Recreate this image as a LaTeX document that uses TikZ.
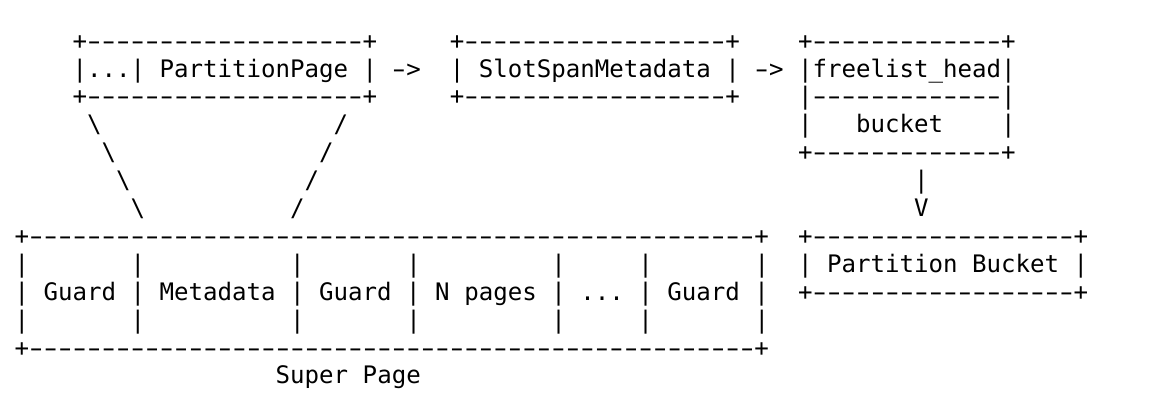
\documentclass[tikz,border=0pt]{standalone}
\usepackage{graphicx}
\usepackage{fontspec}
\setmonofont{DejaVu Sans Mono}
% one hyphen, drawn a bit longer, in one character cell
\newcommand\dsh{\makebox[0.602em]{\scalebox{1.6}[1]{-}}}
\newcommand\dashes[1]{\foreach \k in {1,...,#1}{\dsh}}

\begin{document}
\begin{tikzpicture}[x=14.51pt, y=-27.9pt,
  ascii/.style={anchor=base west, inner sep=0pt, outer sep=0pt,
                font=\ttfamily\fontsize{24.1}{27.9}\selectfont}]
\useasboundingbox (0pt,0pt) rectangle (1156pt,-412pt);
\begin{scope}[shift={(1,0.76)}]
% PartitionPage box
\node[ascii] (pptop) at (4,1) {+\dashes{19}+};
\node[ascii] (ppmid) at (4,2) {|...| PartitionPage |};
\node[ascii] (ppbot) at (4,3) {+\dashes{19}+};
\node[ascii] (arra) at (26,2) {\dsh>};
% SlotSpanMetadata box
\node[ascii] (sstop) at (30,1) {+\dashes{18}+};
\node[ascii] (ssmid) at (30,2) {| SlotSpanMetadata |};
\node[ascii] (ssbot) at (30,3) {+\dashes{18}+};
\node[ascii] (arrb) at (51,2) {\dsh>};
% freelist / bucket box
\node[ascii] (fltop) at (54,1) {+\dashes{13}+};
\node[ascii] (flhead) at (54,2) {|freelist\_head|};
\node[ascii] (flsep) at (54,3) {|\dashes{13}|};
\node[ascii] (flleft) at (54,4) {|};
\node[ascii] (flbucket) at (58,4) {bucket};
\node[ascii] (flright) at (68,4) {|};
\node[ascii] (flbot) at (54,5) {+\dashes{13}+};
\node[ascii] (flbar) at (62,6) {|};
\node[ascii] (flv) at (62,7) {V};
% Partition Bucket box
\node[ascii] (pbtop) at (54,8) {+\dashes{18}+};
\node[ascii] (pbmid) at (54,9) {| Partition Bucket |};
\node[ascii] (pbbot) at (54,10) {+\dashes{18}+};
% slashes from PartitionPage down to the super page
\foreach \i in {0,...,3} {
  \node[ascii] (bs\i) at (5+\i,4+\i) {\textbackslash};
  \node[ascii] (fs\i) at (22-\i,4+\i) {/};
}
% Super page
\node[ascii] (sptop) at (0,8) {+\dashes{50}+};
\foreach \c in {0,8,19,27,37,43,51} {
  \node[ascii] (spa\c) at (\c,9) {|};
  \node[ascii] (spb\c) at (\c,11) {|};
}
\node[ascii] (spmid) at (0,10) {| Guard | Metadata | Guard | N pages | ... | Guard |};
\node[ascii] (spbot) at (0,12) {+\dashes{50}+};
\node[ascii] (splabel) at (18,13) {Super Page};
\end{scope}
\end{tikzpicture}
\end{document}
